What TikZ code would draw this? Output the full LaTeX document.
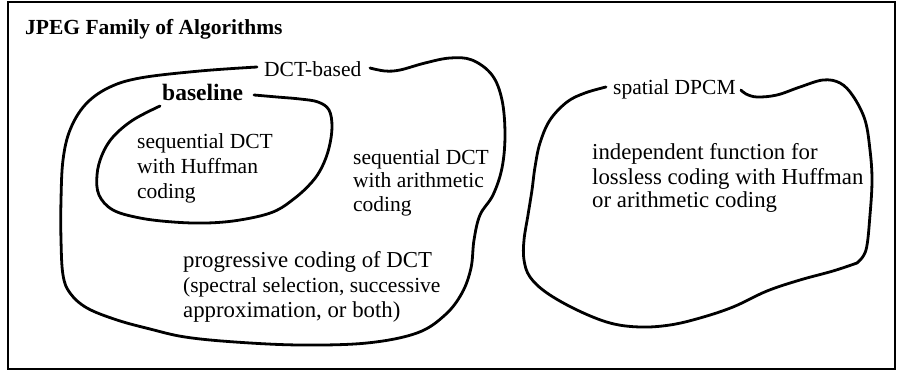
\documentclass[tikz,border=0pt]{standalone}
\usepackage{fontspec}
\setmainfont{Liberation Serif}
\tikzset{
  txt/.style={anchor=base west, inner sep=0pt, font=\fontsize{21.5}{25}\selectfont},
  wtxt/.style={anchor=base west, inner sep=0pt, font=\fontsize{22.8}{25}\selectfont},
  btxt/.style={anchor=base west, inner sep=0pt, font=\fontsize{21.5}{25}\selectfont\bfseries},
  blob/.style={line width=2.8pt, line cap=round, line join=round},
  frame/.style={line width=1.2pt}
}
\begin{document}
\begin{tikzpicture}[x=1pt,y=-1pt]
\useasboundingbox (0,0) rectangle (898,371);
\draw[frame] (8,2) rectangle (895,369);
\node[btxt] (title) at (25,35) {JPEG Family of Algorithms};
% outer DCT-based blob
\node[txt] (dct) at (264,77) {DCT-based};
\draw[blob] plot[smooth, tension=0.6] coordinates {(257,67) (200,71) (140,78) (108,88) (85,105) (70,130) (63,160) (61,200) (61,240) (63,275) (70,293) (87,308) (117,320) (150,329) (185,337) (235,342) (300,345) (367,343) (417,333) (445,315) (462,293) (471,268) (474,240) (480,215) (493,195) (502,168) (505,135) (502,100) (492,75) (472,60) (450,58) (425,63) (400,70) (385,71) (370,68)};
% inner baseline blob
\node[btxt, font=\fontsize{23.5}{25}\selectfont\bfseries] (base) at (162,101) {baseline};
\draw[blob] plot[smooth, tension=0.6] coordinates {(160,106) (133,120) (113,137) (102,155) (97,175) (99,195) (113,210) (140,218) (173,222) (207,223) (240,220) (273,212) (295,198) (312,182) (322,167) (329,148) (332,127) (329,110) (318,102) (300,99) (277,97) (254,95)};
\node[txt] (h1) at (137,149) {sequential DCT};
\node[txt] (h2) at (137,174) {with Huffman};
\node[txt] (h3) at (137,199) {coding};
\node[txt] (a1) at (353,165) {sequential DCT};
\node[txt] (a2) at (353,188) {with arithmetic};
\node[txt] (a3) at (353,212) {coding};
\node[wtxt] (p1) at (183,268) {progressive coding of DCT};
\node[txt] (p2) at (183,293) {(spectral selection, successive};
\node[wtxt] (p3) at (183,318) {approximation, or both)};
% spatial DPCM blob
\node[txt] (dpcm) at (613,95) {spatial DPCM};
\draw[blob] plot[smooth, tension=0.6] coordinates {(606,87) (585,93) (567,102) (550,120) (540,143) (535,167) (532,190) (528,215) (524,240) (524,260) (530,277) (547,293) (577,310) (610,323) (640,327) (670,325) (700,318) (733,307) (767,291) (800,280) (833,271) (857,263)};
\draw[blob] plot[smooth, tension=0.6] coordinates {(857,263) (866,250) (870,215) (872,180) (870,150) (865,120) (853,96) (840,83) (823,80) (800,87) (777,95) (757,97) (746,94) (741,90)};
\node[wtxt] (l1) at (592,160) {independent function for};
\node[wtxt] (l2) at (592,185) {lossless coding with Huffman};
\node[wtxt] (l3) at (592,208) {or arithmetic coding};
\end{tikzpicture}
\end{document}
